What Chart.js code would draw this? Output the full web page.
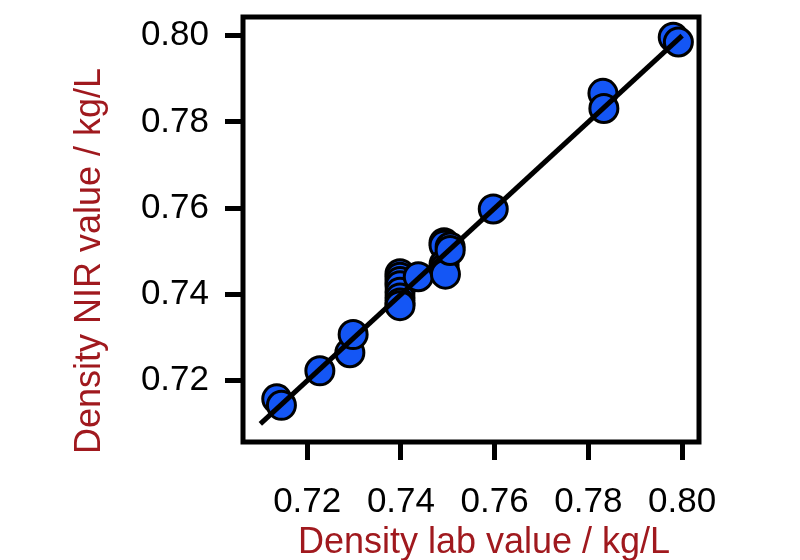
<!DOCTYPE html>
<html>
<head>
<meta charset="utf-8">
<script src="https://cdn.jsdelivr.net/npm/chart.js@4.4.1/dist/chart.umd.min.js"></script>
<style>
  html, body { margin: 0; padding: 0; background: #fff; }
  #chart { display: block; }
</style>
</head>
<body>
<canvas id="chart" width="800" height="560"></canvas>
<script>
const labValues = [0.7135, 0.7145, 0.7227, 0.7291, 0.7298,
  0.7398, 0.7398, 0.7398, 0.7398, 0.7398, 0.7398, 0.7398, 0.7398, 0.7437,
  0.7492, 0.7492, 0.7492, 0.7492, 0.7495, 0.7505, 0.7505,
  0.7597, 0.7831, 0.7833, 0.7981, 0.7992];
const nirValues = [0.7158, 0.7143, 0.7223, 0.7265, 0.7307,
  0.7448, 0.7440, 0.7430, 0.7420, 0.7405, 0.7392, 0.7380, 0.7374, 0.7441,
  0.7520, 0.7514, 0.7470, 0.7460, 0.7447, 0.7510, 0.7502,
  0.7598, 0.7866, 0.7831, 0.7996, 0.7985];
const fitLine = [0.71, 0.80];
const tickValues = [0.72, 0.74, 0.76, 0.78, 0.80];
const xTitle = 'Density lab value / kg/L';
const yTitle = 'Density NIR value / kg/L';

const font = "'Liberation Sans', Arial, sans-serif";
const titleColor = '#a0191e';

const points = labValues.map((x, i) => ({ x, y: nirValues[i] }));

const frame = {
  id: 'frame',
  afterDatasetsDraw(chart) {
    const { ctx, chartArea: a } = chart;
    ctx.save();
    ctx.strokeStyle = '#000';
    ctx.lineWidth = 5;
    ctx.strokeRect(a.left, a.top, a.right - a.left, a.bottom - a.top);
    ctx.restore();
  },
  afterDraw(chart) {
    const { ctx } = chart;
    ctx.save();
    ctx.fillStyle = titleColor;
    ctx.font = `36px ${font}`;
    ctx.textAlign = 'center';
    ctx.textBaseline = 'alphabetic';
    ctx.fillText(xTitle, 484, 553);
    ctx.translate(100, 261);
    ctx.rotate(-Math.PI / 2);
    ctx.fillText(yTitle, 0, 0);
    ctx.restore();
  },
};

const setTicks = (scale) => {
  scale.ticks = tickValues.map((value) => ({ value }));
};

const tickGrid = {
  display: true,
  drawOnChartArea: false,
  drawTicks: true,
  tickLength: 18,
  tickWidth: 5,
  tickColor: '#000',
};

new Chart(document.getElementById('chart'), {
  type: 'scatter',
  data: {
    datasets: [
      {
        type: 'line',
        data: fitLine.map((v) => ({ x: v, y: v })),
        borderColor: '#000',
        borderWidth: 5,
        pointRadius: 0,
        order: 0,
      },
      {
        data: points,
        backgroundColor: '#1456f5',
        borderColor: '#000',
        borderWidth: 3,
        pointRadius: 14,
        order: 1,
      },
    ],
  },
  options: {
    responsive: false,
    animation: false,
    devicePixelRatio: 1,
    layout: { padding: { top: 13, right: 101, left: 0, bottom: 0 } },
    plugins: { legend: { display: false }, tooltip: { enabled: false } },
    scales: {
      x: {
        type: 'linear',
        min: 0.7063,
        max: 0.8036,
        afterBuildTicks: setTicks,
        afterFit: (scale) => {
          scale.height = 118;
          scale.paddingLeft = 0;
          scale.paddingRight = 0;
        },
        grid: tickGrid,
        border: { display: false },
        ticks: {
          color: '#000',
          font: { family: font, size: 35 },
          padding: 21,
          maxRotation: 0,
          callback: (v) => v.toFixed(2),
        },
      },
      y: {
        type: 'linear',
        min: 0.7058,
        max: 0.8043,
        afterBuildTicks: setTicks,
        afterFit: (scale) => {
          scale.width = 243;
          scale.paddingTop = 0;
          scale.paddingBottom = 0;
        },
        grid: tickGrid,
        border: { display: false },
        ticks: {
          color: '#000',
          font: { family: font, size: 35 },
          padding: 16,
          callback: (v) => v.toFixed(2),
        },
      },
    },
  },
  plugins: [frame],
});
</script>
</body>
</html>
